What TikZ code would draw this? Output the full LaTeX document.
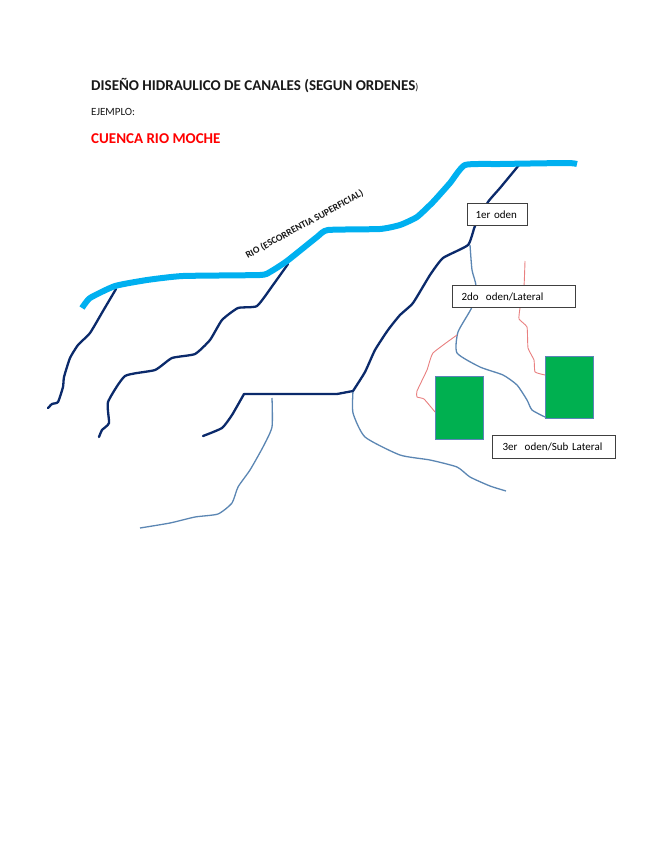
\documentclass[tikz,border=0pt]{standalone}
\usepackage{fontspec}
\setmainfont{Carlito}
\definecolor{rio}{HTML}{00B0F0}
\definecolor{orduno}{HTML}{0B2A6B}
\definecolor{orddos}{HTML}{5B86B3}
\definecolor{ordtres}{HTML}{E98080}
\definecolor{parcela}{HTML}{00B050}
\definecolor{borde}{HTML}{5B84B8}
\tikzset{
  x=1pt,y=-1pt,
  riopath/.style={draw=rio,line width=6pt,line join=round},
  first/.style={draw=orduno,line width=2.3pt,line join=round,line cap=round},
  second/.style={draw=orddos,line width=1.3pt,line join=round},
  third/.style={draw=ordtres,line width=.9pt,line join=round},
  field/.style={draw=borde,fill=parcela,line width=.9pt,inner sep=0pt},
  labelbox/.style={draw=black!75,fill=white,line width=1pt,anchor=north west,inner sep=0pt,font=\fontsize{11}{13}\selectfont,align=left},
  heading/.style={anchor=base west,inner sep=0pt,font=\bfseries\fontsize{15}{17}\selectfont}
}
\begin{document}
\begin{tikzpicture}
\useasboundingbox[fill=white] (0,0) rectangle (655,848);
% titles
\node[heading,text=black!90] (title) at (91,91) {DISEÑO HIDRAULICO DE CANALES (SEGUN ORDENES\textmd{\fontsize{10}{12}\selectfont)}};
\node[anchor=base west,inner sep=0pt,font=\fontsize{11}{13}\selectfont,text=black!90] (ejemplo) at (91,116) {EJEMPLO:};
\node[heading,text=red] (cuenca) at (91,143) {CUENCA RIO MOCHE};
\node[inner sep=0pt,rotate=28.6,font=\bfseries\fontsize{9.7}{11}\selectfont,text=black!90] (riolabel) at (304.5,224.5) {RIO (ESCORRENTIA SUPERFICIAL)};
% second order
\draw[second] plot[smooth,tension=.35] coordinates {(470,245)(472,270)(476,286)(472,307)(458,332)(457,353)(480,367)(503,375)(517,385)(527,400)(532,410)(545,417)};
\draw[second] plot[smooth,tension=.35] coordinates {(353,391)(353,413)(365,437)(400,455)(430,460)(457,467)(470,477)(490,486)(506,491)};
\draw[second] plot[smooth,tension=.35] coordinates {(272,398)(272,427)(263,447)(250,470)(238,487)(232,503)(218,514)(195,517)(170,523)(140,528)};
% third order
\draw[third] plot[smooth,tension=.25] coordinates {(525,261)(524,286)(520,308)(519,319)(527,327)(528,348)(534,360)(535,372)(545,375)};
\draw[third] plot[smooth,tension=.25] coordinates {(457,335)(433,353)(427,370)(417,391)(417,397)(424,399)(435,412)};
% first order
\draw[first] plot[smooth,tension=.3] coordinates {(116,289)(103,311)(90,333)(78,345)(70,358)(64,377)(63,387)(58,402)(52,404)(48,408)};
\draw[first] plot[smooth,tension=.3] coordinates {(288,264)(273,285)(257,306)(238,308)(222,320)(210,340)(195,354)(172,358)(155,370)(125,376)(108,402)(109,423)(102,430)(99,437)};
\draw[first] plot[smooth,tension=.3] coordinates {(203,436)(222,428)(232,415)(244,394)};
\draw[first] (244,394) -- (337,394) -- (353,391);
\draw[first] plot[smooth,tension=.3] coordinates {(353,391)(365,372)(375,350)(388,330)(400,315)(413,303)(430,275)(443,258)(468,245)(475,226)(488,202)(500,188)(519,165)};
% river
\draw[riopath] plot[smooth,tension=.3] coordinates {(82,308)(90,298)(115,286)(147,280)(183,276)(260,275)(270,272)(287,261)(317,237)(328,230)(380,229)(400,225)(417,217)(433,202)(450,183)(465,165)(500,164)(567,163)(577,164)};
% fields
\node[field,minimum width=48pt,minimum height=63pt,anchor=north west] (fieldA) at (435,376) {};
\node[field,minimum width=48pt,minimum height=62pt,anchor=north west] (fieldB) at (545,356) {};
% label boxes
\node[labelbox,minimum width=60pt,minimum height=22pt,text width=60pt] (b1) at (467,203) {\hspace*{8pt}1er oden};
\node[labelbox,minimum width=123pt,minimum height=22pt,text width=123pt] (b2) at (452,285) {\hspace*{9pt}2do\ \ oden/Lateral};
\node[labelbox,minimum width=123pt,minimum height=23pt,text width=123pt] (b3) at (492,435) {\hspace*{10pt}3er\ \ oden/Sub Lateral};
\end{tikzpicture}
\end{document}
